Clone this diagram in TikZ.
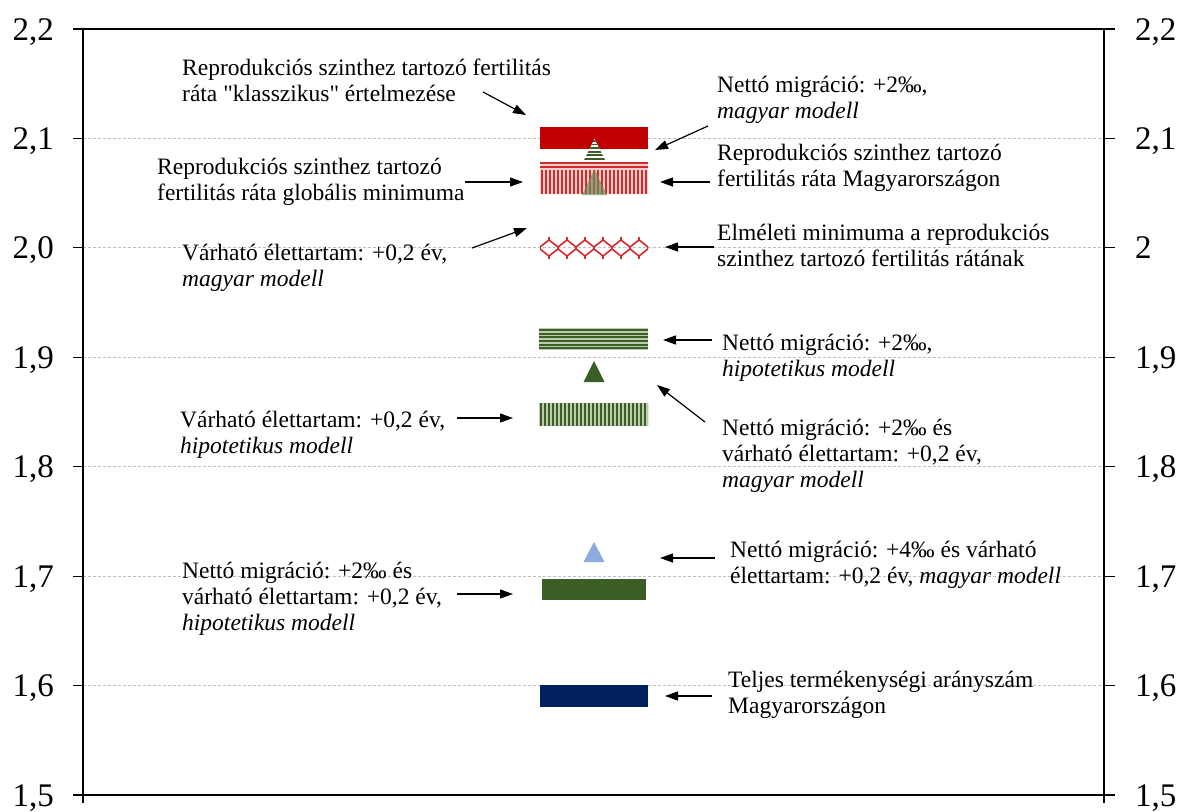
\documentclass[tikz,border=0pt]{standalone}
\usepackage{fontspec}
\setmainfont{Liberation Serif}[Ligatures=TeXOff]
\usetikzlibrary{arrows.meta}
\definecolor{darkred}{HTML}{C00000}
\definecolor{stripered}{HTML}{D42A2A}
\definecolor{palered}{HTML}{F6CFCF}
\definecolor{darkgreen}{HTML}{3B5E26}
\definecolor{midgreen}{HTML}{6E8B5C}
\definecolor{palegreen}{HTML}{B9CBAC}
\definecolor{lightblue}{HTML}{8EA9DB}
\definecolor{navy}{HTML}{002060}
\definecolor{gridgray}{HTML}{BFBFBF}
\tikzset{
  axisline/.style={line width=1.2pt, black},
  gridline/.style={gridgray, line width=0.8pt, dash pattern=on 3pt off 2pt},
  ticklabel/.style={font=\fontsize{33}{36}\selectfont, inner sep=0pt},
  note/.style={font=\fontsize{23.5}{26}\selectfont, align=left, anchor=base west, inner sep=0pt},
  pointer/.style={-{Triangle[length=13pt,width=9pt]}, line width=1.2pt},
  bar/.style={minimum width=108pt, minimum height=22pt, inner sep=0pt, outer sep=0pt}
}
\begin{document}
\begin{tikzpicture}[x=1pt, y=-1pt]
  \useasboundingbox (0,0) rectangle (1183,811);

  \foreach \lab/\rlab [count=\i from 0] in {{2,2}/{2,2},{2,1}/{2,1},{2,0}/2,{1,9}/{1,9},{1,8}/{1,8},{1,7}/{1,7},{1,6}/{1,6},{1,5}/{1,5}}{
    \pgfmathsetmacro\yy{29+109.43*\i}
    \ifnum\i>0\ifnum\i<7\draw[gridline] (83,\yy) -- (1104,\yy);\fi\fi
    \draw[axisline] (73,\yy) -- (83,\yy) (1104,\yy) -- (1115,\yy);
    \node[ticklabel, anchor=base east] (ll\i) at (54,\yy+11) {\lab};
    \node[ticklabel, anchor=base west] (rl\i) at (1135,\yy+11) {\rlab};
  }
  \draw[axisline] (83,29) -- (83,803);
  \draw[axisline] (1104,29) -- (1104,803);
  \draw[axisline] (73,29) -- (1115,29);
  \draw[axisline] (73,795) -- (1115,795);

  % markers
  \node[bar, fill=darkred] (classic) at (594,138) {};
  \begin{scope}
    \clip (594.5,139) -- (607,164) -- (582,164) -- cycle;
    \fill[white] (582,139) rectangle (607,164);
    \foreach \k in {0,...,6}
      \fill[darkgreen] (582,140+3.6*\k) rectangle (607,141.8+3.6*\k);
  \end{scope}
  \begin{scope}
    \clip (540,162) rectangle (648,184);
    \fill[palered] (540,162) rectangle (648,184);
    \foreach \k in {0,...,5}
      \fill[stripered] (540,162+4*\k) rectangle (648,164+4*\k);
  \end{scope}
  \begin{scope}
    \clip (540,170) rectangle (648,194);
    \fill[palered] (540,170) rectangle (648,194);
    \foreach \k in {0,...,27}
      \fill[stripered] (540.5+4*\k,170) rectangle (543+4*\k,194);
  \end{scope}
  \fill[midgreen, opacity=0.7] (594.5,169) -- (607,195) -- (582,195) -- cycle;

  \begin{scope}
    \clip (540,237) rectangle (648,259);
    \foreach \k in {0,...,6}{
      \draw[stripered, line width=1.6pt] (540+18*\k,247) -- (549+18*\k,240) -- (558+18*\k,247);
      \draw[stripered, line width=1.6pt] (531+18*\k,256) -- (540+18*\k,249) -- (549+18*\k,256);
      \draw[stripered, line width=1.6pt] (549+18*\k,240) -- (549+18*\k,237) (540+18*\k,249) -- (540+18*\k,247) (549+18*\k,256) -- (549+18*\k,259);
    }
  \end{scope}

  \begin{scope}
    \clip (539,328) rectangle (648,350);
    \fill[palegreen] (539,328) rectangle (648,350);
    \foreach \k in {0,...,5}
      \fill[darkgreen] (539,329+3.67*\k) rectangle (648,331+3.67*\k);
  \end{scope}
  \fill[darkgreen] (594,361) -- (604.5,382) -- (583.5,382) -- cycle;
  \begin{scope}
    \clip (539,403) rectangle (648,426);
    \fill[palegreen] (539,403) rectangle (648,426);
    \foreach \k in {0,...,27}
      \fill[darkgreen] (539.5+4*\k,403) rectangle (541.7+4*\k,426);
  \end{scope}
  \fill[lightblue] (594,542) -- (604.5,562) -- (583.5,562) -- cycle;
  \node[bar, fill=darkgreen, minimum width=104pt, minimum height=21pt] (hypboth) at (594,589.5) {};
  \node[bar, fill=navy] (tfr) at (594,696) {};

  % labels (anchored at the baseline of the last line)
  \node[note] (classicnote) at (182,101) {Reprodukciós szinthez tartozó fertilitás\\ráta "klasszikus" értelmezése};
  \node[note] (globalnote) at (157,200) {Reprodukciós szinthez tartozó\\fertilitás ráta globális minimuma};
  \node[note] (migmagnote) at (717,118) {Nettó migráció: +2‰,\\\textit{magyar modell}};
  \node[note] (hunnote) at (717,186) {Reprodukciós szinthez tartozó\\fertilitás ráta Magyarországon};
  \node[note] (theorynote) at (717,266) {Elméleti minimuma a reprodukciós\\szinthez tartozó fertilitás rátának};
  \node[note] (lifemagnote) at (182,286) {Várható élettartam: +0,2 év,\\\textit{magyar modell}};
  \node[note] (mighypnote) at (722,376) {Nettó migráció: +2‰,\\\textit{hipotetikus modell}};
  \node[note] (bothmagnote) at (722,487) {Nettó migráció: +2‰ és\\várható élettartam: +0,2 év,\\\textit{magyar modell}};
  \node[note] (lifehypnote) at (180,453) {Várható élettartam: +0,2 év,\\\textit{hipotetikus modell}};
  \node[note] (mig4note) at (730,583) {Nettó migráció: +4‰ és várható\\élettartam: +0,2 év, \textit{magyar modell}};
  \node[note] (bothhypnote) at (182,630) {Nettó migráció: +2‰ és\\várható élettartam: +0,2 év,\\\textit{hipotetikus modell}};
  \node[note] (tfrnote) at (728,713) {Teljes termékenységi arányszám\\Magyarországon};

  % arrows
  \coordinate (a1s) at (483,92);  \coordinate (a1e) at (526,115);
  \coordinate (a2s) at (465,182); \coordinate (a2e) at (523,182);
  \coordinate (a3s) at (708,126); \coordinate (a3e) at (655,150);
  \coordinate (a4s) at (710,182); \coordinate (a4e) at (660,182);
  \coordinate (a5s) at (714,247); \coordinate (a5e) at (665,247);
  \coordinate (a6s) at (472,248); \coordinate (a6e) at (527,228);
  \coordinate (a7s) at (712,340); \coordinate (a7e) at (663,340);
  \coordinate (a8s) at (705,422); \coordinate (a8e) at (657,385);
  \coordinate (a9s) at (457,418); \coordinate (a9e) at (513,418);
  \coordinate (a10s) at (715,558); \coordinate (a10e) at (660,558);
  \coordinate (a11s) at (457,594); \coordinate (a11e) at (513,594);
  \coordinate (a12s) at (712,696); \coordinate (a12e) at (665,696);
  \foreach \n in {1,...,12}
    \draw[pointer] (a\n s) -- (a\n e);
\end{tikzpicture}
\end{document}
